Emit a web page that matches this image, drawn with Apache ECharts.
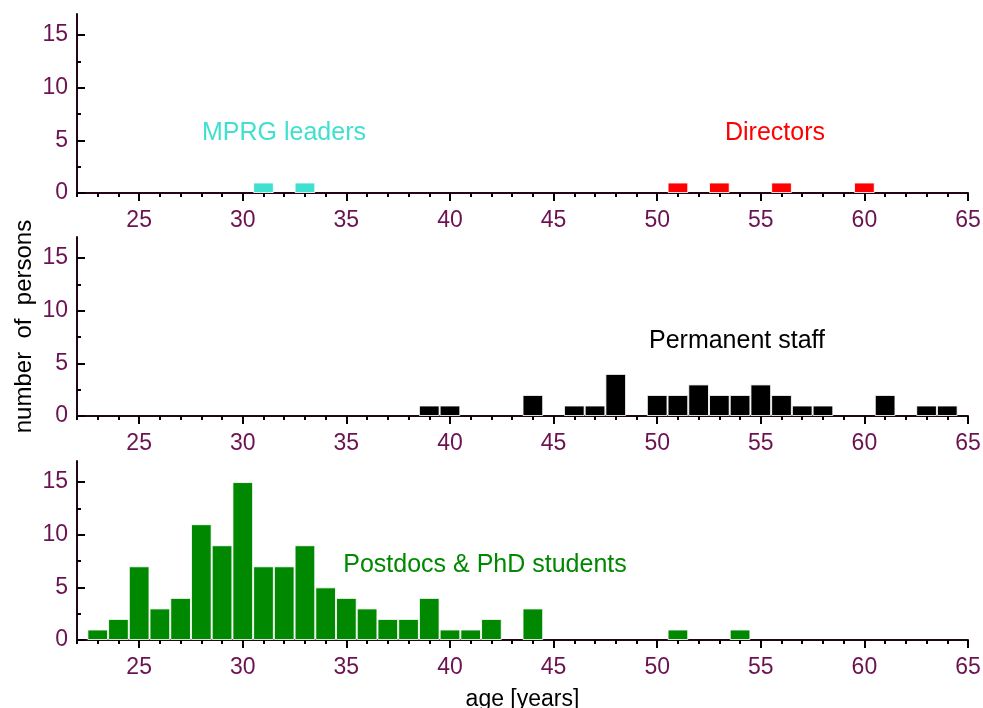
<!DOCTYPE html>
<html><head><meta charset="utf-8">
<script src="https://cdn.jsdelivr.net/npm/echarts@6/dist/echarts.min.js"></script>
<style>html,body{margin:0;padding:0;background:#fff}#c{width:983px;height:708px}</style>
</head><body><div id="c"></div>
<script>
// ----- data -----
const ageMin = 22, ageMax = 65;
const ageCategories = [];
for (let a = ageMin; a <= ageMax; a++) ageCategories.push(String(a));
const xTickLabels = [25, 30, 35, 40, 45, 50, 55, 60, 65];
const yTickLabels = [0, 5, 10, 15];
const yMinorTicks = [2.5, 7.5, 12.5];

const mprgAges = [31, 33];
const mprgCounts = [1, 1];
const directorAges = [51, 53, 56, 60];
const directorCounts = [1, 1, 1, 1];
const staffAges = [39, 40, 44, 46, 47, 48, 50, 51, 52, 53, 54, 55, 56, 57, 58, 61, 63, 64];
const staffCounts = [1, 1, 2, 1, 1, 4, 2, 2, 3, 2, 2, 3, 2, 1, 1, 2, 1, 1];
const studentAges = [23, 24, 25, 26, 27, 28, 29, 30, 31, 32, 33, 34, 35, 36, 37, 38, 39, 40, 41, 42, 44, 51, 54];
const studentCounts = [1, 2, 7, 3, 4, 11, 9, 15, 7, 7, 9, 5, 4, 3, 2, 2, 4, 1, 1, 2, 3, 1, 1];

// ----- styles -----
const FONT = '"Liberation Sans", Arial, Helvetica, sans-serif';
const labelColor = '#6b1250';
const axisColor = '#230419';
const isMajor = (i, v) => xTickLabels.indexOf(Number(v)) >= 0;
const pairs = (ages, counts) => ages.map((a, i) => [String(a), counts[i]]);

const gridTops = [14, 237, 461];
const grids = gridTops.map(t => ({ left: 77, right: 15, top: t, height: 179, outerBoundsMode: 'none', containLabel: false }));

const xAxis = [], yAxis = [];
gridTops.forEach((t, gi) => {
  const last = gi === gridTops.length - 1;
  xAxis.push({
    type: 'category', gridIndex: gi, data: ageCategories, boundaryGap: false, position: 'bottom',
    axisLine: { show: true, onZero: false, lineStyle: { color: axisColor, width: 2 } },
    axisTick: { show: true, interval: 0, length: 4, lineStyle: { color: '#000', width: 2 } },
    axisLabel: { show: false }, splitLine: { show: false }
  });
  xAxis.push({
    type: 'category', gridIndex: gi, data: ageCategories, boundaryGap: false, position: 'bottom',
    axisLine: { show: false },
    axisTick: { show: true, interval: isMajor, length: 8, lineStyle: { color: '#000', width: 2 } },
    axisLabel: { show: true, interval: isMajor, color: labelColor, fontSize: 23, fontFamily: FONT, margin: 16 },
    splitLine: { show: false },
    name: last ? 'age [years]' : '', nameLocation: 'middle', nameGap: 48, nameMoveOverlap: false,
    nameTextStyle: { color: '#000', fontSize: 23, fontFamily: FONT }
  });
  yAxis.push({
    type: 'value', gridIndex: gi, min: 0, max: 17, interval: 5, position: 'left',
    axisLine: { show: true, onZero: false, lineStyle: { color: axisColor, width: 2 } },
    axisTick: { show: true, inside: true, length: 8, customValues: yTickLabels, lineStyle: { color: '#000', width: 2 } },
    axisLabel: { customValues: yTickLabels, color: labelColor, fontSize: 23, fontFamily: FONT, margin: 9 },
    splitLine: { show: false },
    name: gi === 1 ? 'number  of  persons' : '', nameLocation: 'middle', nameGap: 41, nameMoveOverlap: false,
    nameTextStyle: { color: '#000', fontSize: 24, fontFamily: FONT }
  });
  yAxis.push({
    type: 'value', gridIndex: gi, min: 0, max: 17, interval: 5, position: 'left',
    axisLine: { show: false },
    axisTick: { show: true, inside: true, length: 4, customValues: yMinorTicks, lineStyle: { color: '#000', width: 2 } },
    axisLabel: { show: false }, splitLine: { show: false }
  });
});

const barBase = { type: 'bar', barCategoryGap: '0%', animation: false };
const border = { borderColor: 'rgba(255,255,255,0.85)', borderWidth: 1 };
const series = [
  Object.assign({}, barBase, { name: 'MPRG leaders', xAxisIndex: 0, yAxisIndex: 0, stack: 'top',
    itemStyle: Object.assign({ color: '#40e0d0' }, border), data: pairs(mprgAges, mprgCounts) }),
  Object.assign({}, barBase, { name: 'Directors', xAxisIndex: 0, yAxisIndex: 0, stack: 'top',
    itemStyle: Object.assign({ color: '#ff0000' }, border), data: pairs(directorAges, directorCounts) }),
  Object.assign({}, barBase, { name: 'Permanent staff', xAxisIndex: 2, yAxisIndex: 2,
    itemStyle: Object.assign({ color: '#000000' }, border), data: pairs(staffAges, staffCounts) }),
  Object.assign({}, barBase, { name: 'Postdocs & PhD students', xAxisIndex: 4, yAxisIndex: 4,
    itemStyle: Object.assign({ color: '#008800' }, border), data: pairs(studentAges, studentCounts) })
];

const txt = (s, x, y, color) => ({ type: 'text', x: x, y: y, style: { text: s, fill: color, font: '25px ' + FONT, align: 'center', verticalAlign: 'middle' } });

const chart = echarts.init(document.getElementById('c'), null, { renderer: 'canvas' });
chart.setOption({
  animation: false,
  backgroundColor: '#fff',
  grid: grids,
  xAxis: xAxis,
  yAxis: yAxis,
  series: series,
  graphic: [
    txt('MPRG leaders', 284, 133, '#40e0d0'),
    txt('Directors', 775, 133, '#ff0000'),
    txt('Permanent staff', 737, 341, '#000000'),
    txt('Postdocs & PhD students', 485, 565, '#008800')
  ]
});
</script>
</body></html>
